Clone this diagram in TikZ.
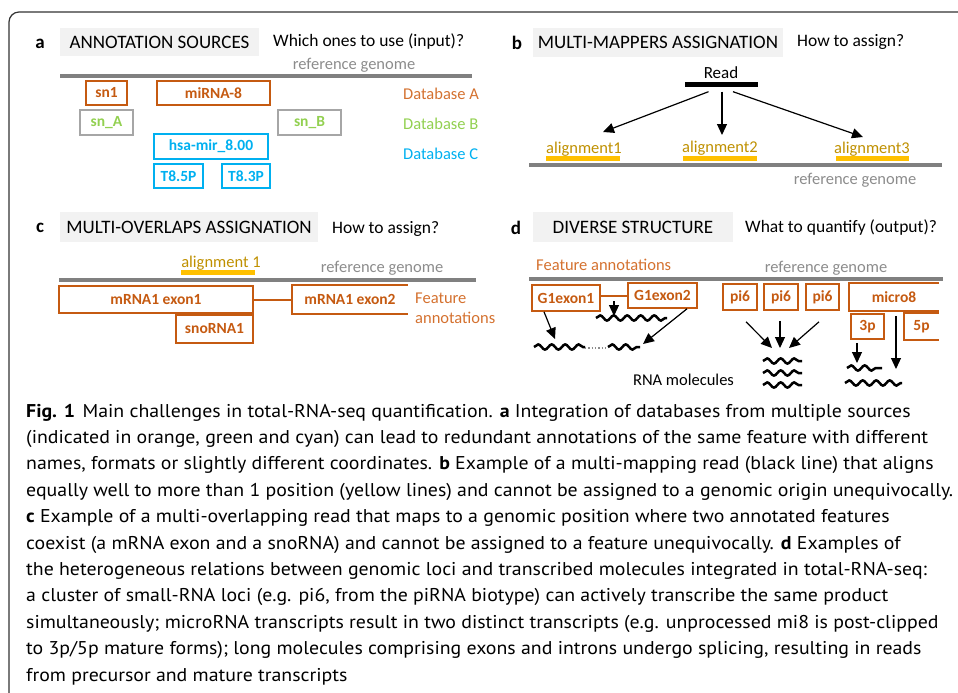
\documentclass[tikz,border=0pt]{standalone}
\usepackage{fontspec}
\usepackage{graphicx}
\setmainfont{Carlito}
\newfontfamily\capfont{PT Sans}
\usetikzlibrary{arrows.meta,decorations.pathmorphing}
\definecolor{orgb}{HTML}{C55A11}
\definecolor{orgt}{HTML}{D4712F}
\definecolor{greenc}{HTML}{92D050}
\definecolor{cyanc}{HTML}{00B0F0}
\definecolor{grayb}{HTML}{A6A6A6}
\definecolor{refgray}{HTML}{8C8C8C}
\definecolor{genomegray}{HTML}{808080}
\definecolor{ttlfill}{HTML}{F2F2F2}
\definecolor{ylw}{HTML}{FFC000}
\definecolor{ylwt}{HTML}{BF9000}
\definecolor{framec}{HTML}{333333}
\newlength\capW
\tikzset{
  boxbase/.style={line width=1.6pt, inner sep=0pt, font=\fontsize{15.5}{16}\selectfont\bfseries},
  obox/.style={boxbase, draw=orgb, text=orgb},
  oopen/.style={boxbase, text=orgb},
  gbox/.style={boxbase, draw=grayb, text=greenc},
  cbox/.style={boxbase, draw=cyanc, text=cyanc},
  openside/.style={draw=orgb, line width=1.6pt},
  linkline/.style={draw=orgb, line width=2pt},
  ttl/.style={fill=ttlfill, inner sep=0pt, font=\fontsize{19}{20}\selectfont},
  qtxt/.style={anchor=west, inner sep=0pt, font=\fontsize{17.5}{20}\selectfont},
  reftxt/.style={text=refgray, inner sep=0pt, font=\fontsize{16.5}{18}\selectfont},
  dbtxt/.style={anchor=west, inner sep=0pt, font=\fontsize{16.5}{18}\selectfont},
  genome/.style={draw=genomegray, line width=4.5pt},
  yline/.style={draw=ylw, line width=5pt},
  altxt/.style={text=ylwt, inner sep=0pt, font=\fontsize{16.5}{18}\selectfont},
  wave/.style={decorate, decoration={snake, amplitude=2.6pt, segment length=13.5pt}, line width=2.5pt},
  arr/.style={-{Triangle[length=11pt,width=10pt]}, line width=1.2pt},
  plet/.style={inner sep=0pt, font=\fontsize{19}{20}\selectfont\bfseries},
  capl/.style={anchor=base west, inner sep=0pt, font=\capfont\fontsize{18.5}{20}\selectfont},
}
\begin{document}
\settowidth{\capW}{\capfont\fontsize{18.5}{20}\selectfont equally well to more than 1 position (yellow lines) and cannot be assigned to a genomic origin unequivocally.}%
\pgfmathsetmacro\capS{927/\capW}%
\begin{tikzpicture}[x=1pt,y=-1pt]
\useasboundingbox (0,0) rectangle (958,693);
% frame
\draw[framec, line width=1.2pt, rounded corners=10pt] (9,694) -- (9,12) -- (959,12);

% ---------------- panel a
\node[plet] (la) at (40,44) {a};
\node[ttl, minimum width=199pt, minimum height=28pt] (ta) at (159.5,42) {ANNOTATION SOURCES};
\node[qtxt] (qa) at (273,42) {Which ones to use (input)?};
\node[reftxt] (refa) at (354,65) {reference genome};
\draw[genome] (60,76) -- (472,76);
\node[obox, minimum width=41pt, minimum height=24pt] (sn1) at (106.5,93) {sn1};
\node[obox, minimum width=113pt, minimum height=24pt] (mir8) at (213.5,93) {miRNA-8};
\node[gbox, minimum width=53pt, minimum height=25pt] (snA) at (106.5,122.5) {sn\_A};
\node[gbox, minimum width=63pt, minimum height=25pt] (snB) at (309.5,122.5) {sn\_B};
\node[cbox, minimum width=114pt, minimum height=25pt] (hsa) at (211,146.5) {hsa-mir\_8.00};
\node[cbox, minimum width=49pt, minimum height=24pt] (t5) at (178.5,176) {T8.5P};
\node[cbox, minimum width=48pt, minimum height=24pt] (t3) at (246,176) {T8.3P};
\node[dbtxt, text=orgt] (dba) at (403,94) {Database A};
\node[dbtxt, text=greenc] (dbb) at (403,124) {Database B};
\node[dbtxt, text=cyanc] (dbc) at (403,154) {Database C};

% ---------------- panel b
\node[plet] (lb) at (517,43) {b};
\node[ttl, minimum width=250pt, minimum height=29pt] (tb) at (658,42.5) {MULTI-MAPPERS ASSIGNATION};
\node[qtxt] (qb) at (797,42) {How to assign?};
\node[inner sep=0pt, font=\fontsize{17}{18}\selectfont] (readt) at (721,73) {Read};
\node[fill=black, inner sep=0pt, minimum width=73pt, minimum height=5pt] (rbar) at (721.5,84) {};
\node[altxt] (al1) at (584,149) {alignment1};
\node[altxt] (al2) at (720,148) {alignment2};
\node[altxt] (al3) at (872,149) {alignment3};
\draw[yline] (546,158) -- (620,158);
\draw[yline] (683,158) -- (757,158);
\draw[yline] (836,158) -- (909,158);
\draw[genome] (529,165) -- (942,165);
\node[reftxt] (refb) at (855,180) {reference genome};
\coordinate (e1) at (603,132);
\coordinate (e2) at (722,135);
\coordinate (e3) at (863,137);
\draw[arr] ([xshift=-13pt,yshift=-5pt]rbar.south) -- (e1);
\draw[arr] ([xshift=0.5pt,yshift=-5pt]rbar.south) -- (e2);
\draw[arr] ([xshift=11.5pt,yshift=-5pt]rbar.south) -- (e3);

% ---------------- panel c
\node[plet] (lc) at (40,228) {c};
\node[ttl, minimum width=258pt, minimum height=30pt] (tc) at (189,227) {MULTI-OVERLAPS ASSIGNATION};
\node[qtxt] (qc) at (332,229) {How to assign?};
\node[altxt] (alc) at (221,263) {alignment 1};
\draw[yline] (181,272) -- (255,272);
\node[reftxt] (refc) at (382,268) {reference genome};
\draw[genome] (59,280) -- (476,280);
\node[obox, minimum width=194pt, minimum height=27pt] (ex1) at (156,299.5) {mRNA1 exon1};
\node[oopen, minimum width=114pt, minimum height=27pt] (ex2) at (350,299.5) {mRNA1 exon2};
\draw[openside] (ex2.north east) -- (ex2.north west) -- (ex2.south west) -- (ex2.south east);
\draw[linkline] (ex1.east) -- (ex2.west);
\node[obox, minimum width=77pt, minimum height=28pt] (sno) at (214.5,329) {snoRNA1};
\node[dbtxt, text=orgt] (feat1) at (415,298) {Feature};
\node[dbtxt, text=orgt] (feat2) at (415,318) {annotations};

% ---------------- panel d
\node[plet] (ld) at (516,228) {d};
\node[ttl, minimum width=200pt, minimum height=30pt] (td) at (633,227) {DIVERSE STRUCTURE};
\node[qtxt] (qd) at (745,228) {What to quantify (output)?};
\node[dbtxt, text=orgt] (featd) at (536,265) {Feature annotations};
\node[reftxt] (refd) at (826,268) {reference genome};
\draw[genome] (529,279) -- (943,279);
\node[obox, minimum width=68pt, minimum height=26pt] (g1) at (566,298) {G1exon1};
\node[obox, minimum width=69pt, minimum height=25pt] (g2) at (662.5,295.5) {G1exon2};
\draw[linkline] (g1.east |- g2.west) -- (g2.west);
\coordinate (s1) at (614,301);
\coordinate (s2) at (614,316);
\draw[arr] (s1) -- (s2);
\draw[wave] (596,318) -- (667,318);
\coordinate (ga) at (555,339);
\coordinate (gb) at (643,344);
\draw[arr] ([xshift=-22pt]g1.south) -- (ga);
\draw[arr] ([xshift=24.5pt]g2.south) -- (gb);
\draw[wave] (534,347) -- (585,347);
\draw[refgray, line width=1.3pt, dotted] (585,348) -- (608,348);
\draw[wave] (608,347) -- (640,347);
\node[obox, minimum width=34pt, minimum height=26pt] (p1) at (740,297) {pi6};
\node[obox, minimum width=34pt, minimum height=26pt] (p2) at (781,297) {pi6};
\node[obox, minimum width=33pt, minimum height=26pt] (p3) at (822.5,297) {pi6};
\coordinate (pa) at (772,348);
\coordinate (pb) at (780,348);
\coordinate (pc) at (789,348);
\draw[arr] ([xshift=6pt,yshift=-11pt]p1.south) -- (pa);
\draw[arr] ([xshift=-1pt,yshift=-10pt]p2.south) -- (pb);
\draw[arr] ([xshift=-3.5pt,yshift=-11pt]p3.south) -- (pc);
\draw[wave] (763,361) -- (802,361);
\draw[wave] (763,373) -- (802,373);
\draw[wave] (763,385) -- (802,385);
\node[oopen, minimum width=88pt, minimum height=26pt] (m8) at (894,297) {micro8};
\draw[openside] (m8.north east) -- (m8.north west) -- (m8.south west) -- (m8.south east);
\node[obox, minimum width=33pt, minimum height=25pt] (p3p) at (867.5,326.5) {3p};
\node[oopen, minimum width=33pt, minimum height=25pt] (p5p) at (921.5,326.5) {5p};
\draw[openside] (p5p.north east) -- (p5p.north west) -- (p5p.south west) -- (p5p.south east);
\coordinate (ma) at (857,363);
\coordinate (mb) at (896,369);
\draw[arr] ([xshift=-10.5pt,yshift=-3pt]p3p.south) -- (ma);
\draw[arr] ([xshift=2pt,yshift=-5pt]m8.south) -- (mb);
\draw[wave] (847,368) -- (882,368);
\draw[wave] (845,383) -- (902,383);
\node[inner sep=0pt, font=\fontsize{16.5}{18}\selectfont] (rnam) at (683.5,380) {RNA molecules};

% ---------------- caption
\node[capl] (c1) at (26,417) {\scalebox{\capS}[1]{\textbf{Fig. 1}\hspace{7pt}Main challenges in total-RNA-seq quantification. \textbf{a} Integration of databases from multiple sources}};
\node[capl] (c2) at (26,443.4) {\scalebox{\capS}[1]{(indicated in orange, green and cyan) can lead to redundant annotations of the same feature with different}};
\node[capl] (c3) at (26,469.8) {\scalebox{\capS}[1]{names, formats or slightly different coordinates. \textbf{b} Example of a multi-mapping read (black line) that aligns}};
\node[capl] (c4) at (26,496.2) {\scalebox{\capS}[1]{equally well to more than 1 position (yellow lines) and cannot be assigned to a genomic origin unequivocally.}};
\node[capl] (c5) at (26,522.6) {\scalebox{\capS}[1]{\textbf{c} Example of a multi-overlapping read that maps to a genomic position where two annotated features}};
\node[capl] (c6) at (26,549) {\scalebox{\capS}[1]{coexist (a mRNA exon and a snoRNA) and cannot be assigned to a feature unequivocally. \textbf{d} Examples of}};
\node[capl] (c7) at (26,575.4) {\scalebox{\capS}[1]{the heterogeneous relations between genomic loci and transcribed molecules integrated in total-RNA-seq:}};
\node[capl] (c8) at (26,601.8) {\scalebox{\capS}[1]{a cluster of small-RNA loci (e.g. pi6, from the piRNA biotype) can actively transcribe the same product}};
\node[capl] (c9) at (26,628.2) {\scalebox{\capS}[1]{simultaneously; microRNA transcripts result in two distinct transcripts (e.g. unprocessed mi8 is post-clipped}};
\node[capl] (c10) at (26,654.6) {\scalebox{\capS}[1]{to 3p/5p mature forms); long molecules comprising exons and introns undergo splicing, resulting in reads}};
\node[capl] (c11) at (26,681) {\scalebox{\capS}[1]{from precursor and mature transcripts}};
\end{tikzpicture}
\end{document}
